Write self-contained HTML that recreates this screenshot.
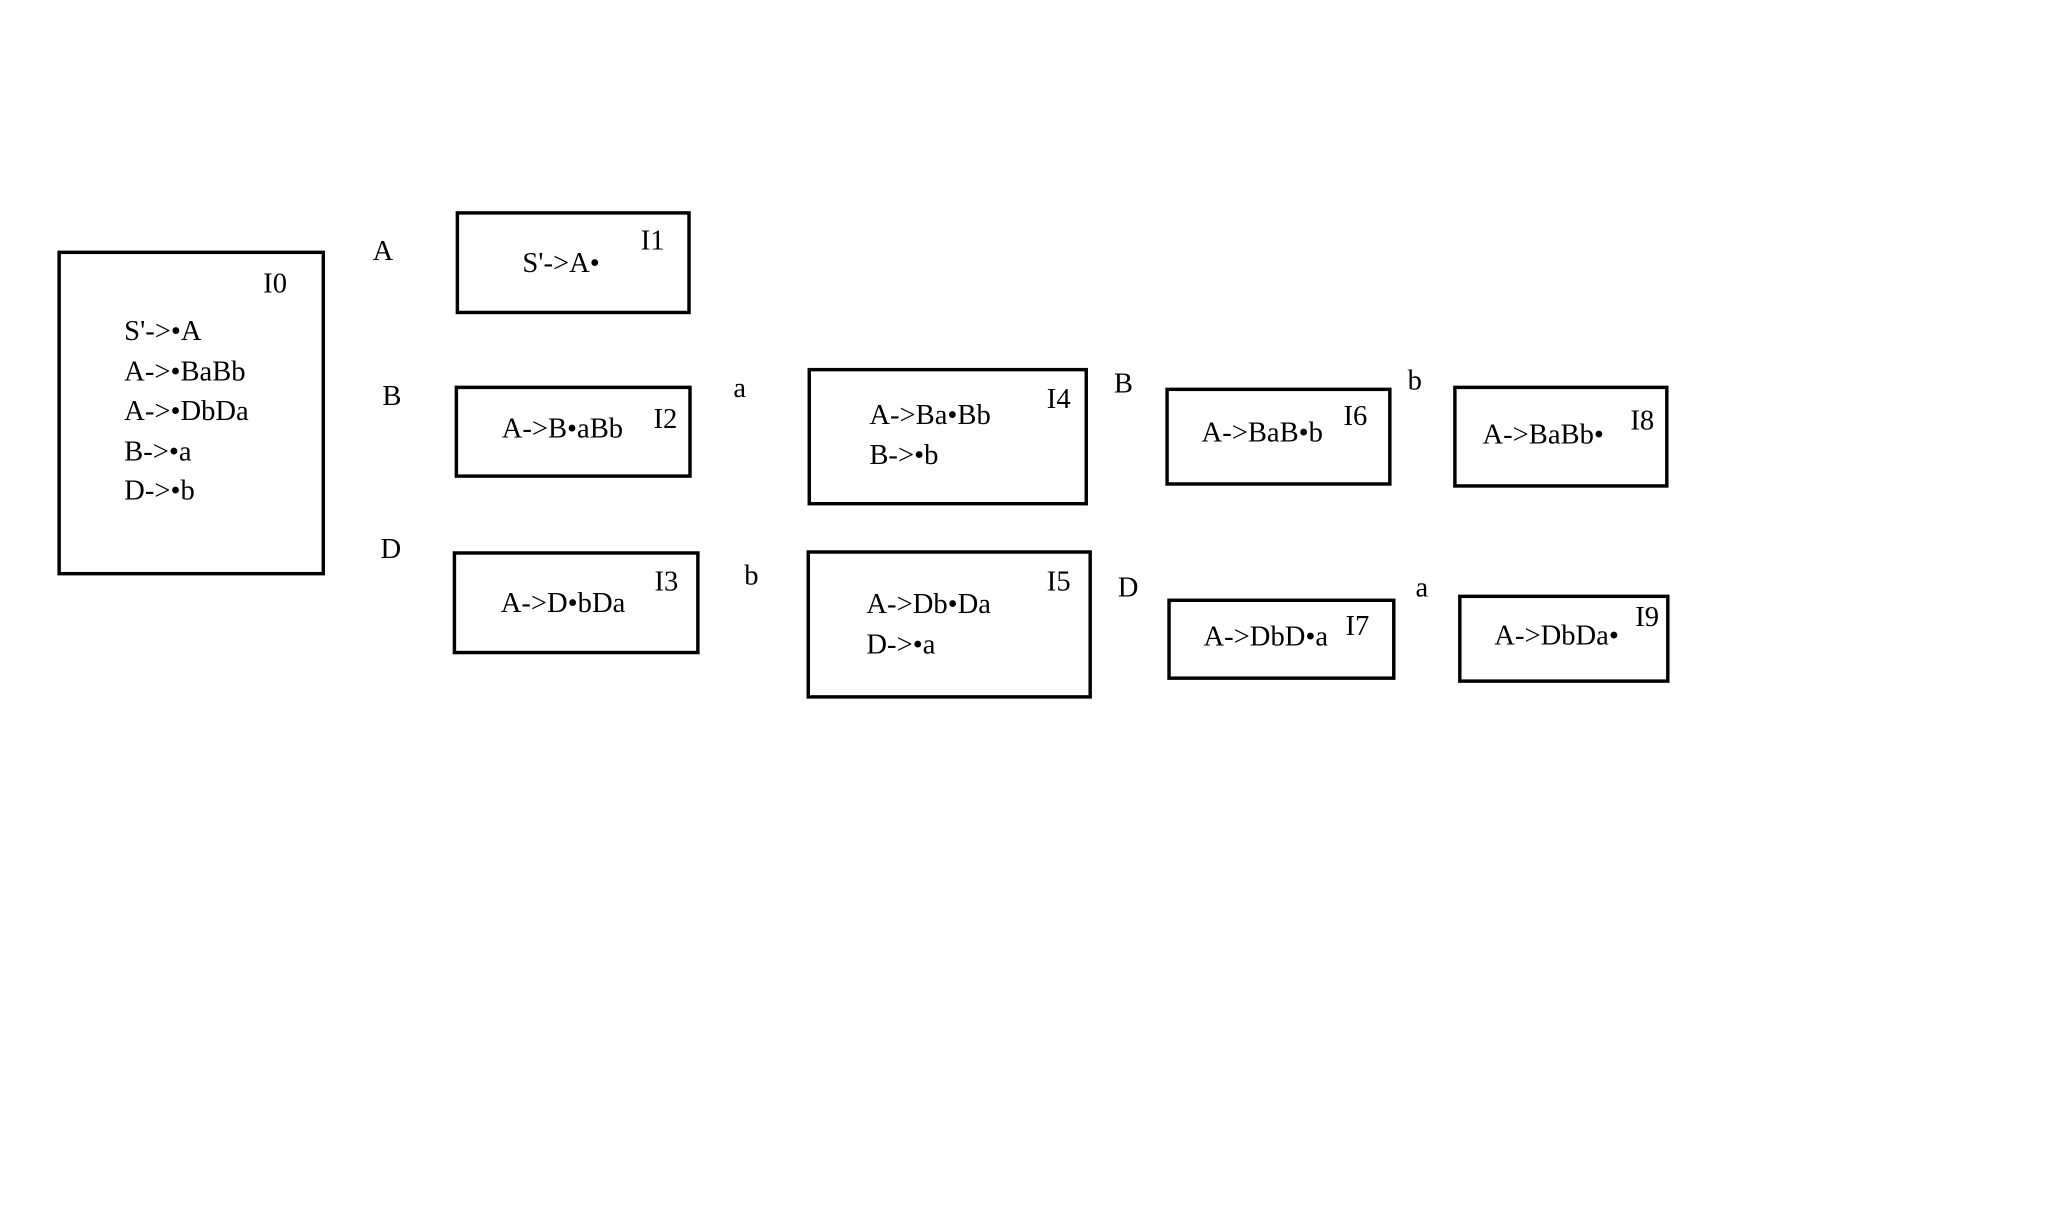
<!DOCTYPE html>
<html><head><meta charset="utf-8"><style>
html,body{margin:0;padding:0;background:#fff;}
svg{display:block;}
text{font-family:"Liberation Serif",serif;font-size:29px;fill:#000;}
rect{fill:none;stroke:#000;stroke-width:3.5;}
</style></head><body>
<svg width="2049" height="1207" viewBox="0 0 2049 1207">
<g transform="scale(0.9857)">
<rect x="60" y="256" width="268" height="326"/>
<rect x="464" y="216" width="235" height="101"/>
<rect x="463" y="393" width="237" height="90"/>
<rect x="461" y="561" width="247" height="101"/>
<rect x="821" y="375" width="281" height="136"/>
<rect x="820" y="560" width="286" height="147"/>
<rect x="1184" y="395" width="226" height="96"/>
<rect x="1476" y="393" width="215" height="100"/>
<rect x="1186" y="609" width="228" height="79"/>
<rect x="1481" y="605" width="211" height="86"/>

<text x="267" y="297">I0</text>
<text x="126" y="345">S'-&gt;•A</text>
<text x="126" y="386">A-&gt;•BaBb</text>
<text x="126" y="426">A-&gt;•DbDa</text>
<text x="126" y="467">B-&gt;•a</text>
<text x="126" y="507">D-&gt;•b</text>

<text x="378" y="264">A</text>
<text x="388" y="411">B</text>
<text x="386" y="566">D</text>
<text x="744" y="403">a</text>
<text x="755" y="593">b</text>
<text x="1130" y="398">B</text>
<text x="1134" y="605">D</text>
<text x="1428" y="395">b</text>
<text x="1436" y="605">a</text>

<text x="530" y="276">S'-&gt;A•</text>
<text x="650" y="253">I1</text>
<text x="509" y="444">A-&gt;B•aBb</text>
<text x="663" y="434">I2</text>
<text x="508" y="621">A-&gt;D•bDa</text>
<text x="664" y="599">I3</text>
<text x="882" y="430">A-&gt;Ba•Bb</text>
<text x="882" y="471">B-&gt;•b</text>
<text x="1062" y="414">I4</text>
<text x="879" y="622">A-&gt;Db•Da</text>
<text x="879" y="663">D-&gt;•a</text>
<text x="1062" y="599">I5</text>
<text x="1219" y="448">A-&gt;BaB•b</text>
<text x="1363" y="431">I6</text>
<text x="1504" y="450">A-&gt;BaBb•</text>
<text x="1654" y="436">I8</text>
<text x="1221" y="655">A-&gt;DbD•a</text>
<text x="1365" y="644">I7</text>
<text x="1516" y="654">A-&gt;DbDa•</text>
<text x="1659" y="635">I9</text>
</g>
</svg>
</body></html>
